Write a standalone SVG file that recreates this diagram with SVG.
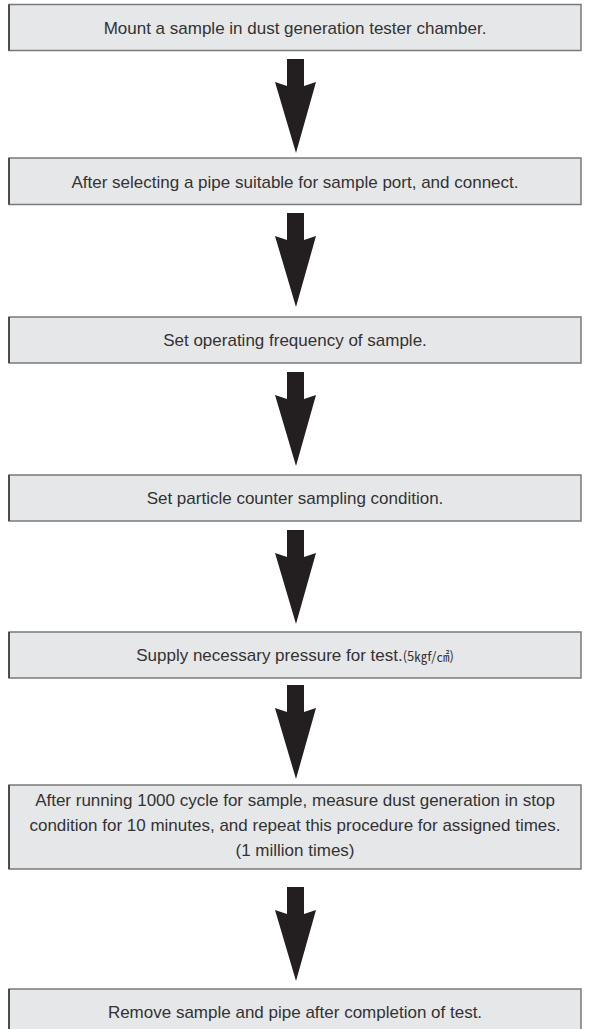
<svg xmlns="http://www.w3.org/2000/svg" width="594" height="1029" viewBox="0 0 594 1029">
  <style>
    .box { fill: #e6e7e8; stroke: #7a7a7a; stroke-width: 1.5; }
    .edge { stroke: #333; stroke-width: 1.5; }
    .label { font-family: "Liberation Sans", Arial, sans-serif; font-size: 17px; fill: #333; text-anchor: middle; }
    .unit { font-family: "Noto Sans CJK KR", sans-serif; font-size: 13px; }
    .arrow { fill: #231f20; }
  </style>
  <defs>
    <!-- block arrow: short shaft over a long tapered head -->
    <path id="downArrow" class="arrow" d="M287,0 H304 V27 L316,23 L296,94 L275,23 L287,27 Z"/>
  </defs>

  <g id="step1">
    <rect class="box" x="9" y="4.5" width="572" height="46"/>
    <line class="edge" x1="9" y1="4.5" x2="9" y2="50.5"/>
    <text class="label" x="295" y="33.5">Mount a sample in dust generation tester chamber.</text>
  </g>

  <g id="step2">
    <rect class="box" x="9" y="158" width="572" height="46.5"/>
    <line class="edge" x1="9" y1="158" x2="9" y2="204.5"/>
    <text class="label" x="295" y="187.5">After selecting a pipe suitable for sample port, and connect.</text>
  </g>

  <g id="step3">
    <rect class="box" x="9" y="317" width="572" height="46"/>
    <line class="edge" x1="9" y1="317" x2="9" y2="363"/>
    <text class="label" x="295" y="346">Set operating frequency of sample.</text>
  </g>

  <g id="step4">
    <rect class="box" x="9" y="475" width="572" height="46"/>
    <line class="edge" x1="9" y1="475" x2="9" y2="521"/>
    <text class="label" x="295" y="504">Set particle counter sampling condition.</text>
  </g>

  <g id="step5">
    <rect class="box" x="9" y="632" width="572" height="46"/>
    <line class="edge" x1="9" y1="632" x2="9" y2="678"/>
    <text class="label" x="295" y="661">Supply necessary pressure for test.<tspan class="unit">(5㎏f/㎠)</tspan></text>
  </g>

  <g id="step6">
    <rect class="box" x="9" y="785" width="572" height="84"/>
    <line class="edge" x1="9" y1="785" x2="9" y2="869"/>
    <text class="label" x="295" y="806">After running 1000 cycle for sample, measure dust generation in stop</text>
    <text class="label" x="295" y="831">condition for 10 minutes, and repeat this procedure for assigned times.</text>
    <text class="label" x="295" y="856">(1 million times)</text>
  </g>

  <g id="step7">
    <rect class="box" x="9" y="989" width="572" height="50"/>
    <line class="edge" x1="9" y1="989" x2="9" y2="1039"/>
    <text class="label" x="295" y="1018">Remove sample and pipe after completion of test.</text>
  </g>

  <g id="connectors">
    <use href="#downArrow" y="59"/>
    <use href="#downArrow" y="213"/>
    <use href="#downArrow" y="372"/>
    <use href="#downArrow" y="530"/>
    <use href="#downArrow" y="685"/>
    <use href="#downArrow" y="887"/>
  </g>
</svg>
